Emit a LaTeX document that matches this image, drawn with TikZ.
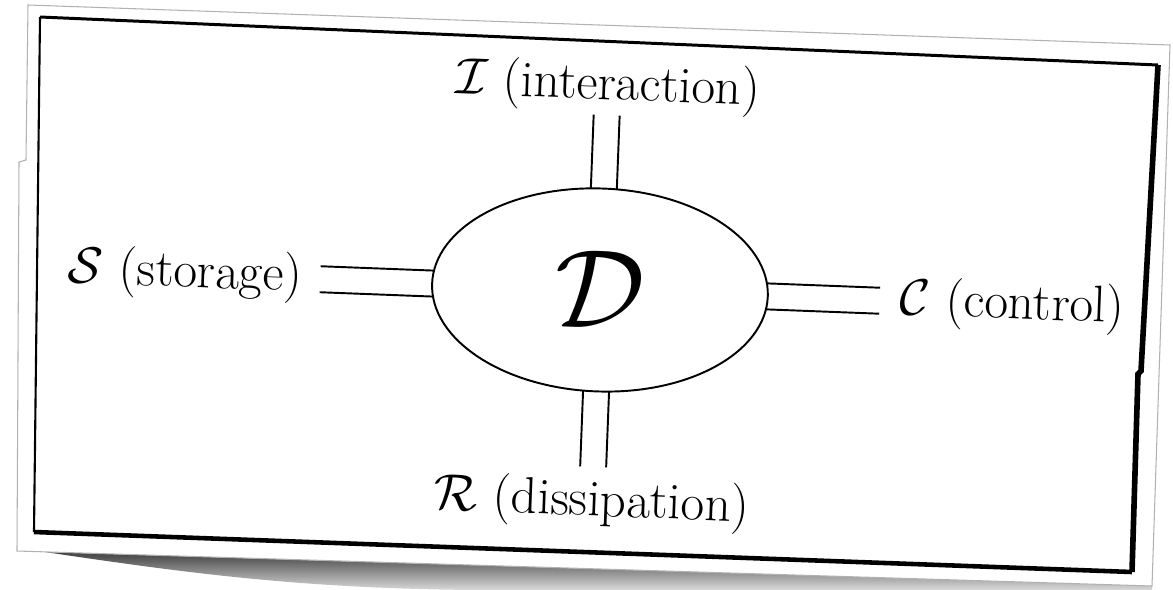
\documentclass[tikz,border=0pt]{standalone}
\usepackage{fix-cm}
\usetikzlibrary{shapes.geometric,positioning,calc}

\begin{document}
\begin{tikzpicture}[x=0.02cm,y=-0.02cm,
  lab/.style={inner sep=0pt,font=\fontsize{29.3}{34}\selectfont},
  stub/.style={line width=1.1pt},
  core/.style={draw,ellipse,fill=white,line width=1.1pt,minimum width=6.72cm,minimum height=4.06cm,inner sep=0pt,font=\fontsize{64}{70}\selectfont}]
\useasboundingbox (0,0) rectangle (1173,589);
% shadow and card
\shade[top color=black!75,bottom color=black!15] (45,552) .. controls (180,572) and (300,589) .. (480,590) -- (1152,590) -- (1152,586) -- cycle;
\filldraw[fill=white,draw=black!30,line width=0.6pt] (28,5) -- (1170,45) -- (1152,586) -- (17,551) -- (19,162) -- (26,160) -- cycle;
% frame
\draw[line width=1.2pt] (40,17) -- (34,532);
\draw[line width=1.7pt] (40,17) -- (1158,65);
\draw[line width=3.2pt] (1158,65) -- (1141,371) -- (1138,374) -- (1132,572);
\draw[line width=2.6pt] (34,532) -- (1132,572);
% the diagram, tilted like the card
\begin{scope}[rotate around={-2.2:(600,290)},transform shape]
\coordinate (c) at (600,290);
\coordinate (iend) at (600,115);
\coordinate (rend) at (600,467);
\coordinate (send) at (320,290);
\coordinate (cend) at (880,290);
\foreach \e in {iend,rend,send,cend}{
  \draw[stub] ($(c)!0.26cm!90:(\e)$) -- ($(\e)!0.26cm!-90:(c)$);
  \draw[stub] ($(c)!0.26cm!-90:(\e)$) -- ($(\e)!0.26cm!90:(c)$);
}
\node[core] (D) at (c) {$\mathcal{D}$};
\node[lab,above=0.05cm of iend] (I) {$\mathcal{I}$ (interaction)};
\node[lab,below=0.2cm of rend] (R) {$\mathcal{R}$ (dissipation)};
\node[lab,left=0.36cm of send] (S) {$\mathcal{S}$ (storage)};
\node[lab,right=0.4cm of cend] (C) {$\mathcal{C}$ (control)};
\end{scope}
\end{tikzpicture}
\end{document}
